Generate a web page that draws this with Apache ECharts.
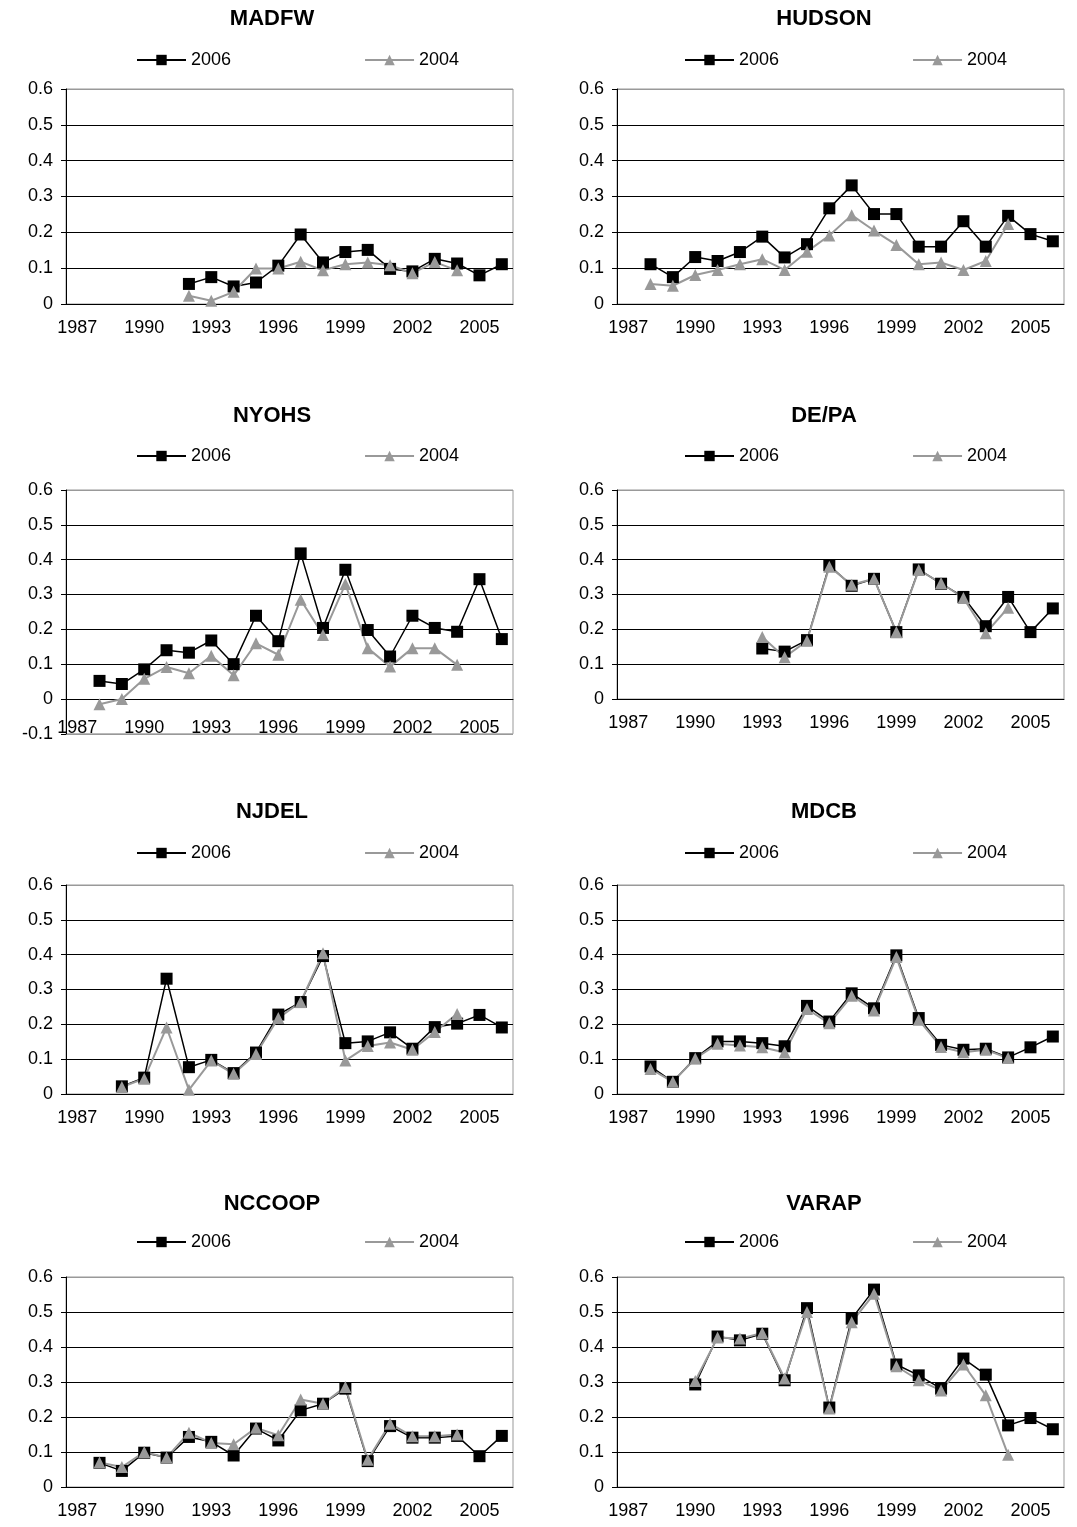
<!DOCTYPE html>
<html>
<head>
<meta charset="utf-8">
<style>
  html, body { margin: 0; padding: 0; background: #fff; }
  #main { width: 1077px; height: 1527px; }
</style>
</head>
<body>
<div id="main"></div>
<script src="https://cdn.jsdelivr.net/npm/echarts@6/dist/echarts.min.js"></script>
<script>
// years on the x axis
var years = ['1987','1988','1989','1990','1991','1992','1993','1994','1995','1996',
             '1997','1998','1999','2000','2001','2002','2003','2004','2005','2006'];
var seriesNames = ['2006', '2004'];
var stations = ['MADFW', 'HUDSON', 'NYOHS', 'DE/PA', 'NJDEL', 'MDCB', 'NCCOOP', 'VARAP'];

var madfw2006 = [null,null,null,null,null,0.056,0.075,0.049,0.060,0.107,0.194,0.116,0.145,0.151,0.098,0.091,0.126,0.113,0.080,0.111];
var madfw2004 = [null,null,null,null,null,0.023,0.009,0.034,0.099,0.099,0.118,0.094,0.111,0.116,0.108,0.086,0.117,0.094,null,null];

var hudson2006 = [null,0.111,0.075,0.131,0.120,0.145,0.188,0.130,0.167,0.267,0.331,0.251,0.251,0.160,0.160,0.231,0.160,0.246,0.195,0.175];
var hudson2004 = [null,0.056,0.051,0.081,0.095,0.111,0.125,0.095,0.146,0.191,0.248,0.205,0.165,0.111,0.116,0.095,0.120,0.223,null,null];

var nyohs2006 = [null,0.052,0.043,0.085,0.140,0.133,0.168,0.100,0.239,0.166,0.418,0.204,0.371,0.198,0.122,0.239,0.204,0.193,0.344,0.172];
var nyohs2004 = [null,-0.015,0.000,0.058,0.092,0.074,0.124,0.068,0.160,0.127,0.285,0.184,0.330,0.146,0.093,0.146,0.146,0.098,null,null];

var depa2006 = [null,null,null,null,null,null,0.145,0.136,0.169,0.384,0.325,0.345,0.192,0.372,0.331,0.293,0.209,0.293,0.192,0.260];
var depa2004 = [null,null,null,null,null,null,0.178,0.120,0.167,0.380,0.328,0.345,0.192,0.370,0.333,0.290,0.189,0.262,null,null];

var njdel2006 = [null,null,0.022,0.047,0.331,0.077,0.098,0.060,0.119,0.228,0.264,0.396,0.146,0.151,0.177,0.130,0.192,0.202,0.227,0.191];
var njdel2004 = [null,null,0.020,0.044,0.191,0.012,0.096,0.058,0.115,0.218,0.264,0.404,0.096,0.138,0.148,0.127,0.178,0.230,null,null];

var mdcb2006 = [null,0.079,0.035,0.103,0.151,0.151,0.146,0.137,0.253,0.208,0.289,0.246,0.398,0.218,0.141,0.127,0.130,0.105,0.134,0.165];
var mdcb2004 = [null,0.072,0.035,0.102,0.144,0.139,0.134,0.119,0.244,0.203,0.282,0.240,0.393,0.213,0.135,0.120,0.127,0.103,null,null];

var nccoop2006 = [null,0.069,0.046,0.098,0.084,0.143,0.129,0.090,0.167,0.133,0.219,0.238,0.281,0.074,0.174,0.141,0.141,0.146,0.088,0.146];
var nccoop2004 = [null,0.070,0.057,0.100,0.084,0.155,0.126,0.122,0.169,0.148,0.250,0.238,0.286,0.078,0.181,0.145,0.145,0.150,null,null];

var varap2006 = [null,null,null,0.293,0.430,0.419,0.438,0.305,0.511,0.227,0.481,0.564,0.350,0.319,0.281,0.367,0.321,0.176,0.197,0.165];
var varap2004 = [null,null,null,0.303,0.427,0.424,0.440,0.310,0.500,0.224,0.471,0.552,0.345,0.305,0.276,0.350,0.262,0.092,null,null];

var yMins = [0, 0, -0.1, 0, 0, 0, 0, 0];
var yMax = 0.6;

var data2006 = [madfw2006, hudson2006, nyohs2006, depa2006, njdel2006, mdcb2006, nccoop2006, varap2006];
var data2004 = [madfw2004, hudson2004, nyohs2004, depa2004, njdel2004, mdcb2004, nccoop2004, varap2004];

// layout of each panel (pixels)
var colLeft = [66, 617];
var colTitle = [272, 824];
var colLegend = [136, 684];
var rows = [
  {title: 8,    legend: 51,   top: 89,  zero: 304},
  {title: 405,  legend: 447,  top: 490, zero: 699},
  {title: 801,  legend: 844,  top: 885, zero: 1094},
  {title: 1193, legend: 1233, top: 1277, zero: 1487}
];
var font = 'Arial, "Liberation Sans", sans-serif';

var myChart = echarts.init(document.getElementById('main'));
var option = {
  animation: false,
  backgroundColor: '#fff',
  textStyle: { fontFamily: font },
  title: [], legend: [], grid: [], xAxis: [], yAxis: [], series: []
};

stations.forEach(function (name, i) {
  var col = i % 2, r = rows[Math.floor(i / 2)];
  var min = yMins[i];
  var perStep = (r.zero - r.top) / 6;
  var below = (0 - min) / 0.1 * perStep;
  var bottomPx = r.zero + below;
  var nLines = Math.round((yMax - min) / 0.1) + 1;
  var lineColors = [];
  for (var k = 0; k < nLines; k++) lineColors.push('#000');
  lineColors[nLines - 1] = '#999';
  if (min < 0) lineColors[0] = '#999';

  option.title.push({
    text: name, left: colTitle[col], top: r.title, textAlign: 'center', padding: 0,
    textStyle: { fontSize: 22, fontWeight: 'bold', color: '#000', fontFamily: font }
  });
  option.legend.push({
    data: seriesNames, left: colLegend[col], top: r.legend, padding: 0,
    itemWidth: 49, itemHeight: 13, itemGap: 133,
    textStyle: { fontSize: 18, color: '#000', fontFamily: font }
  });
  option.grid.push({
    left: colLeft[col], width: 447, top: r.top, height: bottomPx - r.top,
    show: true, borderColor: '#999', borderWidth: 1
  });
  option.xAxis.push({
    type: 'category', gridIndex: i, data: years, boundaryGap: true,
    offset: -below,
    axisLine: { onZero: false, lineStyle: { color: '#000', width: 1 } },
    axisTick: { interval: 0, length: 5, lineStyle: { color: '#000' } },
    axisLabel: { interval: 2, fontSize: 18, color: '#000', margin: min < 0 ? 20 : 15, fontFamily: font },
    splitLine: { show: false }
  });
  option.yAxis.push({
    type: 'value', gridIndex: i, min: min, max: yMax, interval: 0.1,
    axisLine: { show: true, lineStyle: { color: '#000', width: 1 } },
    axisTick: { show: true, length: 5, lineStyle: { color: '#000' } },
    axisLabel: { fontSize: 18, color: '#000', margin: 13, fontFamily: font },
    splitLine: { show: true, lineStyle: { color: lineColors, width: 1 } }
  });
  option.series.push({
    name: '2006', type: 'line', xAxisIndex: i, yAxisIndex: i, data: data2006[i],
    symbol: 'rect', symbolSize: 12, showAllSymbol: true,
    lineStyle: { color: '#000', width: 1.5 }, itemStyle: { color: '#000' }
  });
  option.series.push({
    name: '2004', type: 'line', xAxisIndex: i, yAxisIndex: i, data: data2004[i],
    symbol: 'triangle', symbolSize: 12, showAllSymbol: true,
    lineStyle: { color: '#999', width: 2 }, itemStyle: { color: '#999' }
  });
});

myChart.setOption(option);
</script>
</body>
</html>
